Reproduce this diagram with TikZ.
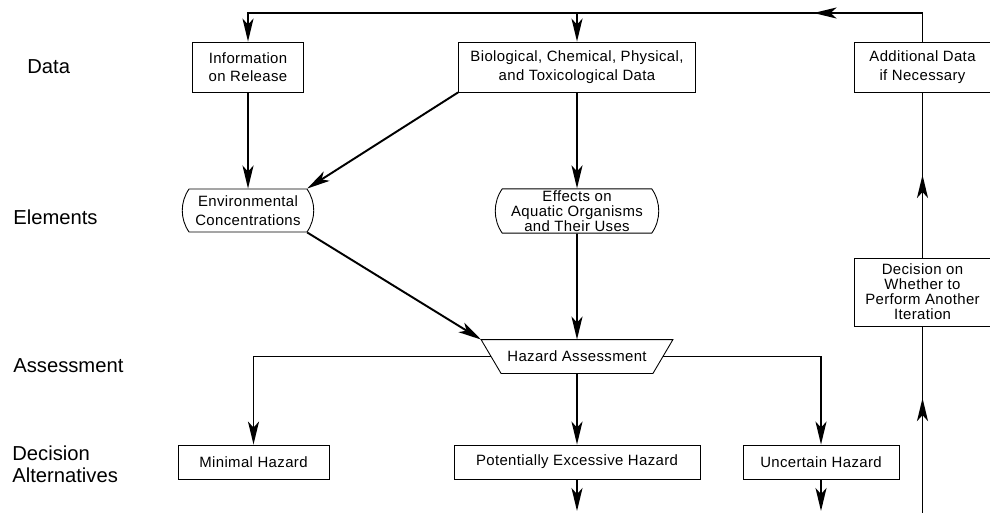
\documentclass[tikz,border=0pt]{standalone}
\usepackage{fontspec}
\setmainfont{Liberation Sans}
\newfontfamily\boxfont[LetterSpace=2.5]{Liberation Sans}
\usetikzlibrary{arrows.meta,calc,shapes.misc,decorations.markings}

\begin{document}
\begin{tikzpicture}[
        box/.style={draw, line width=0.5pt, align=center, inner sep=1pt, font=\boxfont\fontsize{8.5}{10.5}\selectfont},
        tight/.style={font=\boxfont\fontsize{8.5}{8.5}\selectfont},
        elem/.style={box, rounded rectangle, rounded rectangle arc length=70},
        conn/.style={line width=1.1pt},
        flow/.style={conn, -{Stealth[length=4.6mm,width=2.2mm,inset=1.2mm]}},
        midarrow/.style={conn, postaction={decorate}, decoration={markings, mark=at position #1 with {\arrow{Stealth[length=4.6mm,width=2.2mm,inset=1.2mm]}}}},
        level/.style={anchor=west, align=left, inner sep=0pt, font=\fontsize{11.5}{12.5}\selectfont}
    ]

        \useasboundingbox (0cm,0cm) rectangle (19.8cm,-10.24cm);

        \foreach \i/\x/\y/\txt in {1/0.54/-1.34/Data, 2/0.26/-4.34/Elements, 3/0.26/-7.32/Assessment, 4/0.24/-9.28/{Decision\\Alternatives}}  %Ebenen links
            {
                \node[level] (lev\i) at (\x cm,\y cm) {\txt};
            };

        \node[box, minimum width=2.22cm, minimum height=1cm] (info) at (4.96cm,-1.34cm) {Information\\on Release};  %Daten
        \node[box, minimum width=4.74cm, minimum height=1cm] (bio) at (11.54cm,-1.34cm) {Biological, Chemical, Physical,\\and Toxicological Data};
        \node[box, minimum width=2.74cm, minimum height=1cm] (addl) at (18.45cm,-1.34cm) {Additional Data\\if Necessary};

        \node[elem, minimum width=2.7cm, minimum height=0.86cm] (env) at (4.96cm,-4.21cm) {Environmental\\Concentrations};  %Elemente
        \node[elem, tight, minimum width=3.34cm, minimum height=0.88cm] (eff) at (11.54cm,-4.22cm) {Effects on\\Aquatic Organisms\\and Their Uses};

        \node[box, draw=none, minimum width=3.82cm, minimum height=0.66cm] (haz) at (11.54cm,-7.13cm) {Hazard Assessment};  %Bewertung
        \draw[line width=0.5pt] (haz.north west) -- (haz.north east) -- ($(haz.south east)+(-0.4cm,0)$)
            -- ($(haz.south west)+(0.4cm,0)$) -- cycle;  %Trapez
        \coordinate (hazL) at ($(haz.west)+(0.2cm,0)$);
        \coordinate (hazR) at ($(haz.east)+(-0.2cm,0)$);

        \node[box, tight, minimum width=2.74cm, minimum height=1.36cm] (dec) at (18.45cm,-5.84cm) {Decision on\\Whether to\\Perform Another\\Iteration};

        \node[box, minimum width=3.02cm, minimum height=0.68cm] (minimal) at (5.07cm,-9.24cm) {Minimal Hazard};  %Alternativen
        \node[box, minimum width=4.92cm, minimum height=0.68cm] (pot) at (11.54cm,-9.24cm) {Potentially Excessive Hazard};
        \node[box, minimum width=3.12cm, minimum height=0.68cm] (unc) at (16.42cm,-9.24cm) {Uncertain Hazard};

        \coordinate (topR) at (18.45cm,-0.26cm);  %Rückführung oben
        \coordinate (topL) at (4.96cm,-0.26cm);
        \coordinate (botP) at (11.54cm,-10.22cm);  %unterer Rand
        \coordinate (botU) at (16.42cm,-10.22cm);
        \coordinate (botR) at (18.45cm,-10.3cm);

        \draw[flow, midarrow=2.75cm] (addl.north) -- (topR) -- (topL) -- (info.north);
        \draw[flow] (bio.north |- topL) -- (bio.north);

        \draw[flow] (info) -- (env);
        \draw[flow] (bio.south west) -- (env.north east);
        \draw[flow] (bio) -- (eff);
        \draw[flow] (env.south east) -- (haz.north west);
        \draw[flow] (eff) -- (haz);

        \draw[flow] (hazL) -| (minimal.north);
        \draw[flow] (haz.south) -- (pot);
        \draw[flow] (hazR) -| (unc.north);
        \draw[flow] (pot) -- (botP);
        \draw[flow] (unc) -- (botU);

        \draw[midarrow=0.62] (botR) -- (dec);
        \draw[midarrow=0.5] (dec) -- (addl);

    \end{tikzpicture}
\end{document}
